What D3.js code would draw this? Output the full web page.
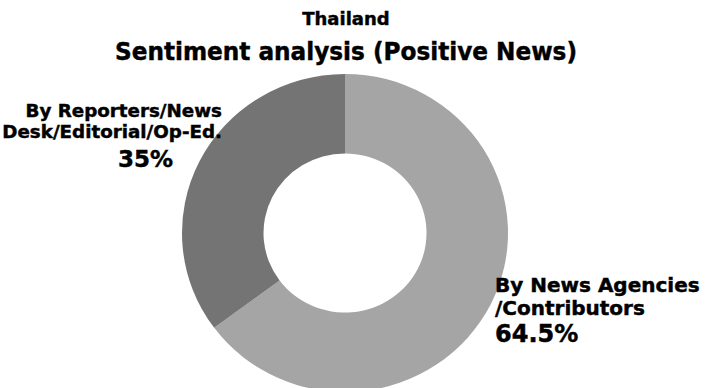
<!DOCTYPE html>
<html>
<head>
<meta charset="utf-8">
<script src="https://cdn.jsdelivr.net/npm/d3@7"></script>
<style>
  html, body { margin: 0; padding: 0; background: #fff; }
  svg { display: block; }
  text { font-family: "DejaVu Sans", sans-serif; font-weight: bold; fill: #000;
         stroke: #000; stroke-width: 0.45px; }
</style>
</head>
<body>
<svg id="chart" width="706" height="388"></svg>
<script>
// Share of positive news items by source
const categories = ["By News Agencies /Contributors", "By Reporters/News Desk/Editorial/Op-Ed."];
const shares = [64.5, 35];
const sliceColors = ["#a5a5a5", "#747474"];
const labelLines = [
  ["By News Agencies", "/Contributors"],
  ["By Reporters/News", "Desk/Editorial/Op-Ed."]
];
const subtitle = "Thailand";
const title = "Sentiment analysis (Positive News)";

const svg = d3.select("#chart");
const cx = 345, cy = 233, outerR = 159, innerR = 79.5, stretchX = 163 / 159;

// Titles
svg.append("text").attr("x", 346).attr("y", 25)
  .attr("text-anchor", "middle").style("font-size", "18px").text(subtitle);
svg.append("text").attr("x", 346).attr("y", 60)
  .attr("text-anchor", "middle").style("font-size", "24.5px")
  .attr("textLength", 462).attr("lengthAdjust", "spacingAndGlyphs")
  .text(title);

// Donut
const pie = d3.pie().sort(null).value(d => d.value);
const arcs = pie(categories.map((c, i) => ({ name: c, value: shares[i], color: sliceColors[i] })));
const arc = d3.arc().innerRadius(innerR).outerRadius(outerR);

svg.append("g")
  .attr("transform", `translate(${cx},${cy}) scale(${stretchX},1)`)
  .selectAll("path")
  .data(arcs)
  .join("path")
  .attr("d", arc)
  .attr("fill", d => d.data.color);

// Data labels
const fmt = v => v + "%";

// Right label (news agencies)
const rl = svg.append("g");
rl.selectAll("text.name").data(labelLines[0]).join("text")
  .attr("x", 495).attr("y", (d, i) => 291.5 + i * 23.5)
  .style("font-size", "20px").text(d => d);
rl.append("text").attr("x", 495).attr("y", 341.5)
  .style("font-size", "24px").text(fmt(shares[0]));

// Left label (reporters / desk)
const ll = svg.append("g");
ll.selectAll("text.name").data(labelLines[1]).join("text")
  .attr("x", 222).attr("y", (d, i) => 116.5 + i * 21.5)
  .attr("text-anchor", "end")
  .style("font-size", "18.3px").text(d => d);
ll.append("text").attr("x", 145.5).attr("y", 167)
  .attr("text-anchor", "middle")
  .style("font-size", "23px").text(fmt(shares[1]));
</script>
</body>
</html>
